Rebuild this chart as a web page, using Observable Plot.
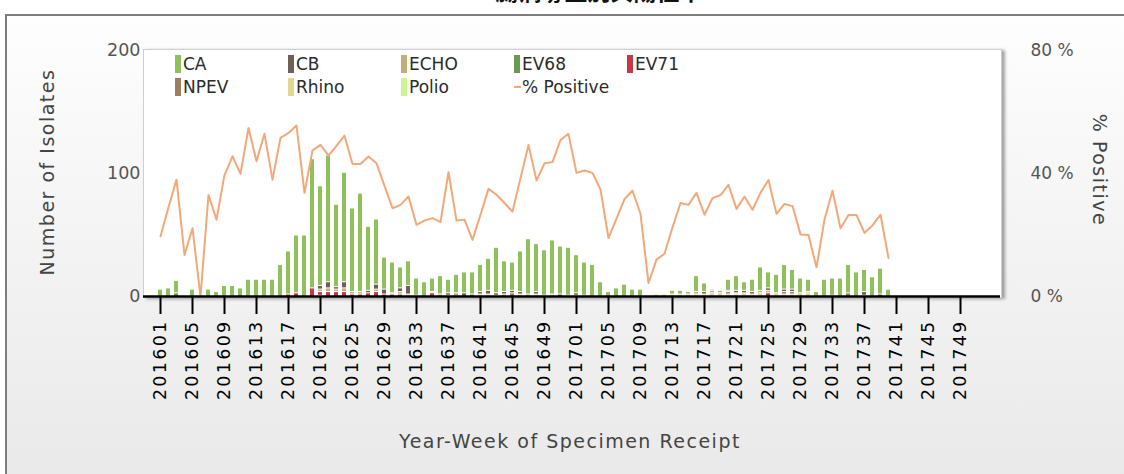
<!DOCTYPE html>
<html>
<head>
<meta charset="utf-8">
<script src="https://cdn.jsdelivr.net/npm/d3@7"></script>
<script src="https://cdn.jsdelivr.net/npm/@observablehq/plot@0.6"></script>
<style>
  html, body { margin: 0; padding: 0; width: 1124px; height: 474px; overflow: hidden; background: #fff; font-family: "DejaVu Sans", sans-serif; }
  #title { position: absolute; top: -27px; left: 494px; width: 210px; text-align: center; font-family: "Noto Sans CJK TC", sans-serif; font-size: 23px; font-weight: bold; color: #111; white-space: nowrap; }
  #panel { position: absolute; left: 5px; top: 14px; width: 1130px; height: 470px; border-top: 2px solid #7d7d7d; border-left: 2px solid #7d7d7d; background: linear-gradient(to bottom, #fefefe 0%, #f1f1f1 60%, #e9e9e9 100%); }
  #plotbg { position: absolute; left: 143px; top: 49px; width: 857px; height: 247px; background: #fff; border: 1px solid #cfcfcf; box-shadow: 3px 1px 3px rgba(0,0,0,0.35); }
  #chart { position: absolute; left: 0; top: 0; }
  #legend { position: absolute; left: 175px; top: 54px; font-size: 17px; color: #2a2a2a; }
  .li { position: absolute; white-space: nowrap; height: 20px; line-height: 20px; }
  .sw { display: inline-block; width: 6px; height: 18px; vertical-align: -3px; margin-right: 2px; }
  .dash { display: inline-block; width: 7px; height: 2px; vertical-align: 5px; margin-right: 1px; }
  .axt { position: absolute; font-size: 19px; letter-spacing: 1.5px; color: #444; white-space: nowrap; }
  g[aria-label="x-axis tick label"] text { letter-spacing: 2.3px; }
</style>
</head>
<body>
<div id="panel"></div>
<div id="title">腸病毒型別與陽性率</div>
<div id="plotbg"></div>
<div id="chart"></div>
<div id="legend"></div>
<div class="axt" id="ytitle" style="left:47px; top:172px; transform: translate(-50%,-50%) rotate(-90deg);">Number of Isolates</div>
<div class="axt" id="y2title" style="left:1100px; top:170px; transform: translate(-50%,-50%) rotate(90deg);">% Positive</div>
<div class="axt" id="xtitle" style="left:570px; top:441px; transform: translate(-50%,-50%);">Year-Week of Specimen Receipt</div>
<script>
// Categories: year-week labels 2016-01 .. 2017-52
const years = [2016, 2017];
const weeks = [];
for (const y of years) for (let w = 1; w <= 52; w++) weeks.push(`${y}${String(w).padStart(2, "0")}`);
const tickWeeks = weeks.filter((d, i) => i % 4 === 0);

const seriesNames = ["CA", "CB", "ECHO", "EV68", "EV71", "NPEV", "Rhino", "Polio"];
const seriesColors = ["#8fc15b", "#6f5f55", "#bfae78", "#6a9a4f", "#cc3448", "#9c7d5d", "#e3d68f", "#ccf590"];
const lineName = "% Positive";
const lineColor = "#f2a878";

// Weekly isolates by type (weeks 201601..201740)
const CA = [6,7,10,0,6,0,6,4,9,9,7,14,14,14,14,26,35,47,50,105,81,103,67,89,68,80,52,53,26,25,17,20,14,12,11,15,11,15,17,18,22,26,37,25,23,33,45,39,37,44,39,39,31,27,26,12,4,7,10,6,6,0,0,0,3,3,2,13,7,0,0,9,12,7,10,19,13,15,20,16,12,10,4,14,14,15,23,20,18,16,21,6];
const CB = [0,0,0,0,0,0,0,0,0,0,0,0,0,0,0,0,0,0,0,0,3,5,2,5,0,0,2,4,4,0,3,7,0,0,0,0,2,0,3,0,2,3,2,2,2,2,0,2,0,0,2,0,2,1,0,0,0,0,0,0,0,0,0,0,0,0,0,0,2,1,0,1,2,2,2,0,2,0,2,2,0,1,0,0,0,0,0,0,3,0,2,0];
const ECHO = [0,0,0,0,0,0,0,0,0,0,0,0,0,0,0,0,0,0,0,0,2,3,2,3,2,2,0,2,0,1,2,0,1,0,1,2,0,3,0,0,0,0,0,2,0,0,2,0,0,0,0,0,0,0,0,0,0,0,0,0,0,0,0,0,0,0,0,2,0,2,2,0,1,0,0,2,2,0,0,0,0,0,0,0,0,0,0,0,0,0,0,0];
const EV68 = [0,0,3,0,0,0,0,0,0,0,0,0,0,0,0,0,0,0,0,0,0,0,0,0,0,0,0,0,0,0,0,0,0,0,0,0,0,0,0,0,0,0,0,0,0,0,0,0,0,0,0,0,0,0,0,0,0,0,0,0,0,0,0,0,0,0,0,0,0,0,0,0,0,0,0,0,0,0,0,0,0,0,0,0,0,0,0,0,0,0,0,0];
const EV71 = [0,0,0,0,0,0,0,0,0,0,0,0,0,0,0,0,2,3,0,7,3,4,4,4,2,2,3,4,2,2,2,0,0,0,3,0,0,0,0,0,0,0,0,0,0,0,0,0,0,0,0,0,0,0,0,0,0,0,0,0,0,0,0,0,0,0,0,0,0,0,0,0,0,0,0,0,3,0,0,0,0,0,0,0,0,0,0,0,0,0,0,0];
const NPEV = [0,0,0,0,0,0,0,0,0,0,0,0,0,0,0,0,0,0,0,0,0,0,0,0,0,0,0,0,0,0,0,0,0,0,0,0,0,0,0,2,0,0,0,0,3,0,0,0,0,0,0,0,0,0,0,0,0,0,0,0,0,0,0,0,0,0,0,0,0,0,0,2,0,0,0,0,0,0,2,2,0,0,0,0,1,0,3,0,0,0,0,0];
const Rhino = [0,0,0,0,0,0,0,0,0,0,0,0,0,0,0,0,0,0,0,0,1,0,0,0,0,0,0,0,0,0,0,2,0,0,0,0,1,0,0,0,2,2,1,0,0,2,0,2,1,2,0,1,1,0,0,0,0,0,0,0,0,0,2,2,2,2,2,2,2,3,3,2,2,3,2,3,0,3,2,2,3,3,0,0,0,0,0,0,1,0,0,0];
const Polio = [];
const pctPositive = [19.6,29,38,13.5,22.2,0,33,25,39.5,45.6,39.9,54.8,44,52.9,38,51.6,53.2,55.6,33.7,47.5,49.3,45.8,49,52.3,43.1,43.1,45.5,43.3,36,28.7,29.8,32.5,23.3,24.7,25.5,24.2,40.4,24.7,25,18.4,26.6,35,33.1,30.4,27.6,38.5,49.3,37.7,43.3,43.7,50.9,52.9,40.2,41,40.2,34.8,19,25.3,31.7,34.4,26.9,4.4,12,13.9,22.5,30.4,29.8,33.7,26.6,32,33,36.3,28.5,32.5,28.2,33.7,37.9,26.9,30.1,29.4,20.2,20,9.5,25,34.4,22.2,26.5,26.5,20.7,23.1,26.6,12.5];

const yTicks = [0, 100, 200];
const pctScale = 2.5; // 80 % on the right axis == 200 isolates on the left axis

const seriesValues = {CA, CB, ECHO, EV68, EV71, NPEV, Rhino, Polio};
const rows = [];
for (const s of seriesNames) {
  seriesValues[s].forEach((v, i) => { if (v > 0) rows.push({week: weeks[i], series: s, value: v}); });
}
const pctRows = pctPositive.map((p, i) => ({week: weeks[i], pct: p}));
const stackOrder = seriesNames.slice().reverse();

const chart = Plot.plot({
  width: 1124,
  height: 474,
  marginLeft: 143,
  marginRight: 124,
  marginTop: 50,
  marginBottom: 178,
  style: {background: "transparent", fontFamily: "DejaVu Sans, sans-serif", fontSize: "17px", color: "#444"},
  x: {type: "band", domain: weeks, paddingInner: 0.5, paddingOuter: 0.25, axis: null},
  y: {domain: [0, 200], axis: null},
  color: {domain: seriesNames, range: seriesColors},
  marks: [
    Plot.barY(rows, Plot.stackY({order: stackOrder, x: "week", y: "value", fill: "series", insetTop: 1})),
    Plot.lineY(pctRows, {x: "week", y: d => d.pct * pctScale, stroke: lineColor, strokeWidth: 2, curve: "linear"}),
    Plot.ruleY([0], {stroke: "#000", strokeWidth: 2.5}),
    Plot.axisX({ticks: tickWeeks, tickSize: 18, tickRotate: -90, tickPadding: 5, strokeWidth: 2, stroke: "#000", fill: "#000", fontSize: 17.5, label: null}),
    Plot.axisY({ticks: yTicks, tickSize: 0, tickPadding: 3, fontSize: 17.5, fill: "#555", label: null}),
    Plot.axisY({anchor: "right", ticks: yTicks, tickFormat: d => `${d / pctScale} %`, tickSize: 0, tickPadding: 30, fontSize: 17, fill: "#555", textAnchor: "start", label: null})
  ]
});
document.getElementById("chart").appendChild(chart);

// Legend (two rows of five columns, inside the plot frame)
const legendItems = seriesNames.map((s, i) => ({name: s, color: seriesColors[i], kind: "bar"}))
  .concat([{name: lineName, color: lineColor, kind: "line"}]);
const legend = document.getElementById("legend");
legendItems.forEach((it, i) => {
  const row = Math.floor(i / 5), col = i % 5;
  const el = document.createElement("div");
  el.className = "li";
  el.style.left = (col * 113) + "px";
  el.style.top = (row * 23) + "px";
  const sw = document.createElement("span");
  sw.className = it.kind === "bar" ? "sw" : "dash";
  sw.style.background = it.color;
  el.appendChild(sw);
  el.appendChild(document.createTextNode(it.name));
  legend.appendChild(el);
});
</script>
</body>
</html>
